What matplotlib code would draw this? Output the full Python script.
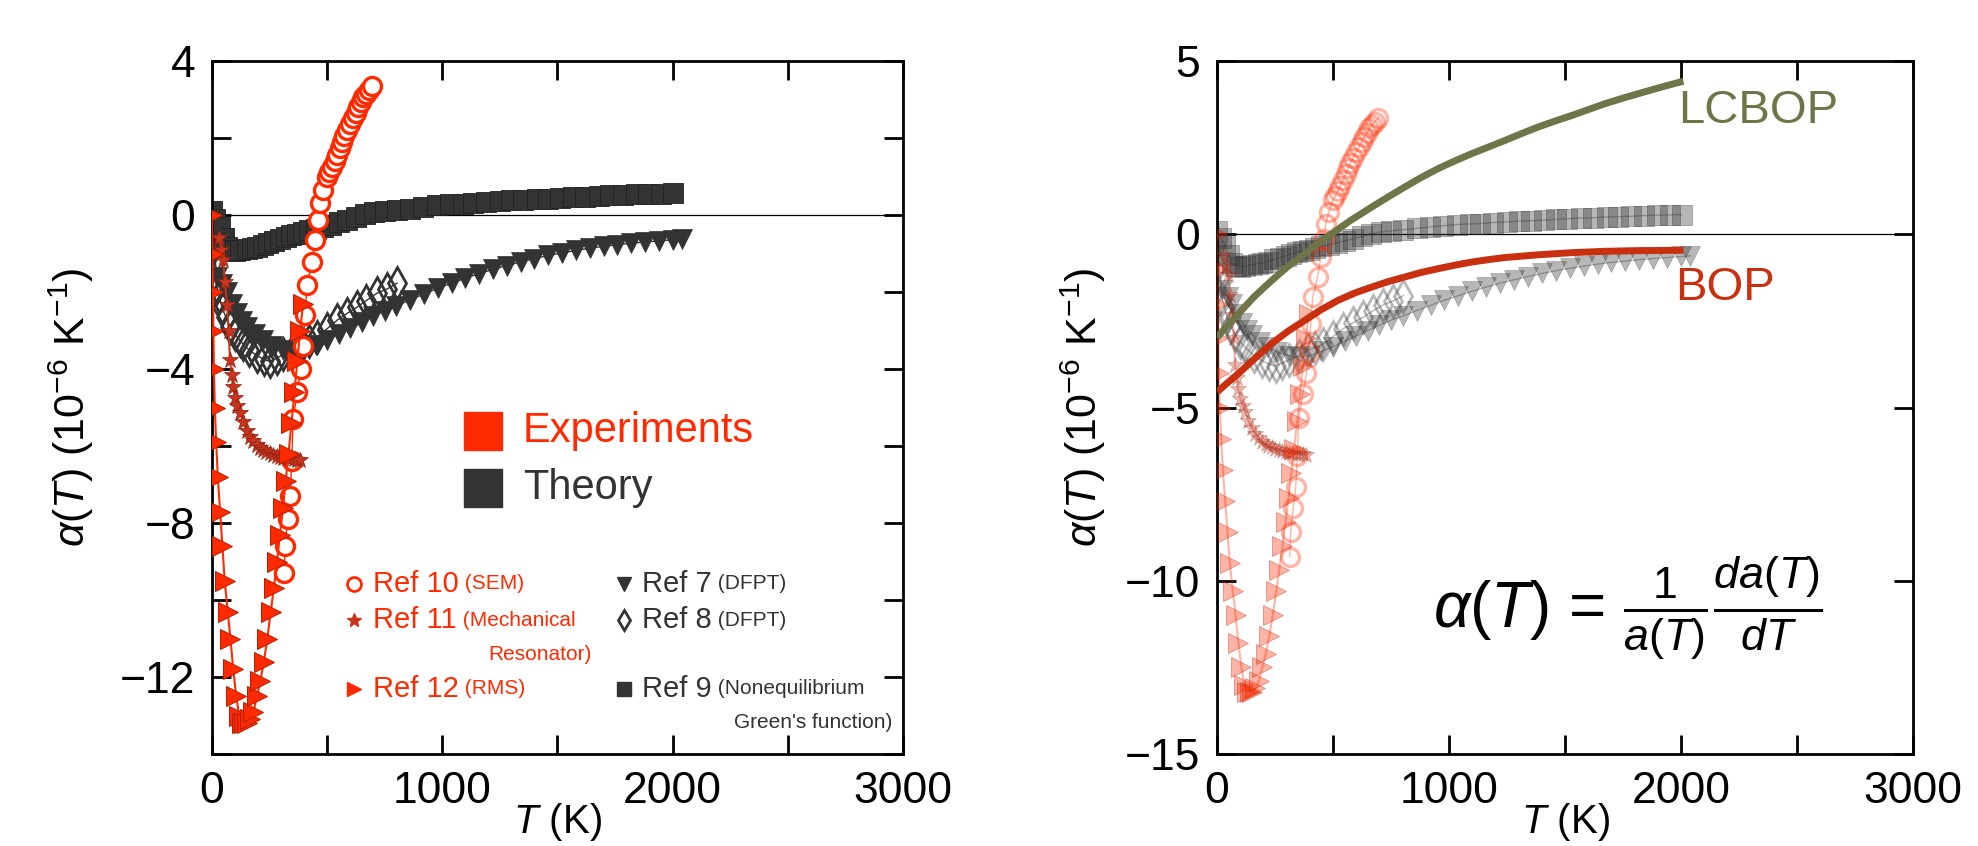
import numpy as np
import matplotlib
matplotlib.use("Agg")
import matplotlib.pyplot as plt

plt.rcParams['font.family'] = ['Liberation Sans', 'DejaVu Sans']
plt.rcParams['mathtext.fontset'] = 'custom'
plt.rcParams['mathtext.rm'] = 'Liberation Sans'
plt.rcParams['mathtext.it'] = 'Liberation Sans:italic'
plt.rcParams['mathtext.bf'] = 'Liberation Sans:bold'

# ---- data: T in K, alpha in 1e-6 / K ----
# Ref 10 (SEM), open circles
t_ref10 = [313, 317, 328, 339, 346, 352, 370, 385, 395, 404, 412, 434, 447, 460, 469, 482,
           499, 510, 521, 532, 543, 554, 564, 575, 586, 599, 612, 623, 634, 645, 656, 668, 680, 695]
a_ref10 = [-9.3, -8.6, -7.9, -7.3, -6.4, -5.3, -4.6, -4.0, -3.4, -2.6, -1.82, -1.22, -0.65, -0.13, 0.31, 0.65,
           0.99, 1.12, 1.25, 1.40, 1.56, 1.73, 1.90, 2.05, 2.21, 2.37, 2.52, 2.66, 2.81, 2.93, 3.06, 3.15, 3.25, 3.35]

# Ref 11 (mechanical resonator), stars
t_ref11 = [30, 40, 48, 56, 65, 72, 78, 85, 91, 100, 110, 122, 135, 150, 165, 180, 195, 210, 221, 235,
           250, 265, 280, 295, 310, 325, 340, 355, 370, 382]
a_ref11 = [-0.6, -0.9, -1.17, -1.75, -2.34, -3.0, -3.77, -4.15, -4.47, -4.75, -4.95, -5.14, -5.38, -5.6, -5.77,
           -5.88, -5.98, -6.05, -6.1, -6.15, -6.19, -6.22, -6.25, -6.28, -6.3, -6.32, -6.33, -6.34, -6.35, -6.36]

# Ref 12 (RMS), right triangles
t_ref12 = [0, 2, 4, 6, 8, 12, 18, 25, 35, 45, 55, 68, 80, 92, 105, 118, 130, 140,
           150, 165, 180, 195, 210, 225, 240, 255, 268, 282, 295, 308, 320, 332, 345, 358, 370, 383, 395]
a_ref12 = [0.0, -1.0, -2.0, -3.0, -4.0, -5.0, -5.9, -6.8, -7.7, -8.6, -9.5, -10.3, -11.0, -11.8, -12.5, -13.0, -13.2, -13.2,
           -13.2, -13.1, -12.9, -12.5, -12.1, -11.6, -11.0, -10.3, -9.7, -9.0, -8.3, -7.6, -6.9, -6.2, -5.4, -4.6, -3.8, -3.0, -2.3]

# Ref 7 (DFPT), down triangles
t_ref7 = [0, 22, 45, 65, 88, 109, 130, 152, 185, 221, 260, 308, 350, 400, 450, 500, 550, 600, 650, 700,
          750, 800, 860, 920, 980, 1040, 1100, 1160, 1220, 1280, 1340, 1400, 1460, 1520, 1580, 1640,
          1700, 1760, 1820, 1880, 1940, 2000, 2040]
a_ref7 = [-0.5, -1.6, -1.8, -2.0, -2.3, -2.55, -2.75, -2.9, -3.1, -3.25, -3.4, -3.5, -3.55, -3.5, -3.38, -3.25,
          -3.08, -2.93, -2.78, -2.62, -2.48, -2.36, -2.2, -2.05, -1.9, -1.77, -1.64, -1.52, -1.41, -1.31,
          -1.22, -1.13, -1.05, -0.98, -0.92, -0.86, -0.81, -0.77, -0.73, -0.70, -0.67, -0.64, -0.62]

# Ref 8 (DFPT), open diamonds
t_ref8 = [0, 11, 22, 32, 43, 60, 78, 100, 120, 135, 160, 195, 225, 252, 280, 310, 352, 390, 420, 456,
          500, 543, 585, 630, 670, 716, 760, 803]
a_ref8 = [-0.9, -1.25, -1.87, -2.1, -2.4, -2.65, -2.9, -3.1, -3.25, -3.35, -3.5, -3.65, -3.75, -3.8, -3.72,
          -3.62, -3.5, -3.35, -3.27, -3.17, -2.95, -2.73, -2.56, -2.39, -2.22, -2.03, -1.92, -1.77]

# Ref 9 (nonequilibrium Green's function), squares
t_ref9 = [0, 15, 35, 50, 65, 80, 100, 122, 150, 175, 195, 220, 245, 270, 295, 320, 345, 370, 395, 420,
          450, 482, 515, 550, 586, 625, 665, 705, 750, 803, 860, 916, 975, 1033, 1090, 1133, 1190, 1250,
          1300, 1351, 1410, 1460, 1510, 1568, 1620, 1680, 1730, 1785, 1840, 1895, 1950, 2002]
a_ref9 = [0.1, -0.1, -0.3, -0.6, -0.83, -0.9, -0.93, -0.91, -0.88, -0.85, -0.83, -0.79, -0.72, -0.67, -0.62,
          -0.57, -0.52, -0.48, -0.44, -0.4, -0.35, -0.31, -0.25, -0.19, -0.13, -0.06, 0.02, 0.07, 0.1, 0.13,
          0.17, 0.21, 0.25, 0.28, 0.3, 0.31, 0.34, 0.36, 0.38, 0.39, 0.41, 0.43, 0.45, 0.47, 0.48, 0.5,
          0.51, 0.52, 0.54, 0.55, 0.56, 0.57]

# model curves (right panel)
t_lcbop = [0, 46, 92, 160, 236, 305, 379, 435, 494, 580, 667, 740, 810, 880, 954, 1025, 1098, 1170,
           1241, 1313, 1385, 1457, 1529, 1600, 1672, 1744, 1816, 1910, 2010]
a_lcbop = [-2.98, -2.62, -2.29, -1.8, -1.33, -0.93, -0.56, -0.26, 0.02, 0.42, 0.79, 1.09, 1.37, 1.64,
           1.90, 2.12, 2.33, 2.52, 2.71, 2.91, 3.10, 3.27, 3.43, 3.60, 3.77, 3.92, 4.06, 4.24, 4.42]
t_bop = [0, 46, 92, 160, 236, 305, 379, 450, 523, 595, 667, 740, 810, 880, 954, 1025, 1098, 1170,
         1241, 1313, 1385, 1457, 1529, 1600, 1672, 1744, 1816, 1910, 2010]
a_bop = [-4.55, -4.28, -4.02, -3.6, -3.15, -2.8, -2.48, -2.17, -1.90, -1.69, -1.52, -1.36, -1.23, -1.1,
         -0.99, -0.89, -0.80, -0.73, -0.67, -0.63, -0.59, -0.56, -0.53, -0.51, -0.49, -0.48, -0.47, -0.465, -0.46]

RED = '#ff2a00'
STAR = '#c8341c'
DARK = '#333333'
OLIVE = '#6f7548'
BOPRED = '#c83010'


def draw_data(ax, fade=1.0):
    ax.plot(t_ref9, a_ref9, '-', color=DARK, lw=1, alpha=fade, zorder=2)
    ax.plot(t_ref9, a_ref9, 's', ms=15, mfc=DARK, mec='#222222', mew=0.6, alpha=fade, zorder=2)
    ax.plot(t_ref7, a_ref7, '-', color=DARK, lw=1, alpha=fade, zorder=2)
    ax.plot(t_ref7, a_ref7, 'v', ms=14, mfc=DARK, mec=DARK, mew=0.5, alpha=fade, zorder=2)
    ax.plot(t_ref8, a_ref8, '-', color=DARK, lw=1, alpha=fade, zorder=2)
    ax.plot(t_ref8, a_ref8, 'd', ms=16, mfc='none', mec=DARK, mew=2, alpha=fade, zorder=2)
    ax.plot(t_ref10, a_ref10, '-', color=RED, lw=1, alpha=fade, zorder=3)
    ax.plot(t_ref10, a_ref10, 'o', ms=13, mfc='white' if fade == 1.0 else 'none', mec=RED, mew=2.4,
            alpha=fade, zorder=3)
    ax.plot(t_ref11, a_ref11, '-', color=STAR, lw=1.5, alpha=fade, zorder=3)
    ax.plot(t_ref11, a_ref11, '*', ms=12, mfc=STAR, mec='#8a2010', mew=0.5, alpha=fade, zorder=3)
    ax.plot(t_ref12, a_ref12, '-', color=RED, lw=1.5, alpha=fade, zorder=4)
    ax.plot(t_ref12, a_ref12, '>', ms=14, mfc=RED, mec='#b02000', mew=0.7, alpha=fade, zorder=4)
    ax.axhline(0, color='black', lw=0.9, zorder=1)


def style_axes(ax, ymajor, ylab_every, ylim, ylabelpad):
    ax.set_xlim(0, 3000)
    ax.set_ylim(*ylim)
    ax.set_xticks(np.arange(0, 3001, 500))
    ax.set_xticklabels([str(v) if v % 1000 == 0 else '' for v in range(0, 3001, 500)])
    yt = np.arange(ylim[0], ylim[1] + 0.01, ymajor)
    ax.set_yticks(yt)
    ax.set_yticklabels([f'{int(v)}'.replace('-', '\u2212') if int(v) % ylab_every == 0 else '' for v in yt])
    ax.tick_params(direction='in', length=14, width=2, labelsize=32, pad=12,
                   top=True, right=True)
    for s in ax.spines.values():
        s.set_linewidth(2)
    ax.set_xlabel('$T$ (K)', fontsize=29)
    ax.xaxis.set_label_coords(0.5, -0.129)
    ax.xaxis.label.set_va('bottom')
    ax.set_ylabel(r'$\alpha$($T$) (10$^{-6}$ K$^{-1}$)', fontsize=31, labelpad=ylabelpad)


fig = plt.figure(figsize=(19.78, 8.46), dpi=100)
ax1 = fig.add_axes([0.1072, 0.1087, 0.3493, 0.8191])
ax2 = fig.add_axes([0.6153, 0.1087, 0.3519, 0.8191])

# ---- left panel ----
draw_data(ax1)
style_axes(ax1, 2, 4, (-14, 4), 17)

tr = ax1.transAxes
ax1.plot([0.392], [0.466], 's', ms=27, color=RED, transform=tr, clip_on=False)
ax1.plot([0.392], [0.384], 's', ms=27, color=DARK, transform=tr, clip_on=False)
ax1.text(0.450, 0.466, 'Experiments', color=RED, fontsize=30, va='center', transform=tr)
ax1.text(0.450, 0.384, 'Theory', color=DARK, fontsize=30, va='center', transform=tr)

rows = [
    (0.206, 0.246, 'o', dict(mfc='none', mec=RED, mew=2), RED, 'Ref 10', '(SEM)'),
    (0.206, 0.193, '*', dict(mfc=STAR, mec=STAR), RED, 'Ref 11', '(Mechanical'),
    (0.206, 0.094, '>', dict(mfc=RED, mec=RED), RED, 'Ref 12', '(RMS)'),
    (0.596, 0.246, 'v', dict(mfc=DARK, mec=DARK), DARK, 'Ref 7', '(DFPT)'),
    (0.596, 0.193, 'd', dict(mfc='none', mec=DARK, mew=2), DARK, 'Ref 8', '(DFPT)'),
    (0.596, 0.094, 's', dict(mfc=DARK, mec=DARK), DARK, 'Ref 9', '(Nonequilibrium'),
]
for x, y, m, kw, c, main, sub in rows:
    ax1.plot([x], [y], m, ms=10, transform=tr, clip_on=False, **kw)
    t = ax1.text(x + 0.027, y, main, color=c, fontsize=21, va='center', transform=tr)
    ax1.annotate(' ' + sub, xy=(1, 0.5), xycoords=t, va='center', ha='left', color=c, fontsize=15)
ax1.text(0.549, 0.143, 'Resonator)', color=RED, fontsize=15, ha='right', va='center', transform=tr)
ax1.text(0.984, 0.045, "Green's function)", color=DARK, fontsize=15, ha='right', va='center', transform=tr)

# ---- right panel ----
draw_data(ax2, fade=0.35)
ax2.plot(t_lcbop, a_lcbop, '-', color=OLIVE, lw=5, zorder=6, solid_capstyle='butt')
ax2.plot(t_bop, a_bop, '-', color=BOPRED, lw=5, zorder=6, solid_capstyle='butt')
style_axes(ax2, 5, 5, (-15, 5), 12)
tr2 = ax2.transAxes
ax2.text(0.662, 0.928, 'LCBOP', color=OLIVE, fontsize=34, va='center', transform=tr2)
ax2.text(0.658, 0.672, 'BOP', color=BOPRED, fontsize=34, va='center', transform=tr2)
ax2.text(0.310, 0.21, r'$\alpha(T)$ = $\frac{1}{a(T)}\frac{da(T)}{dT}$', fontsize=46,
         va='center', transform=tr2)

fig.savefig('out.png', dpi=100)
